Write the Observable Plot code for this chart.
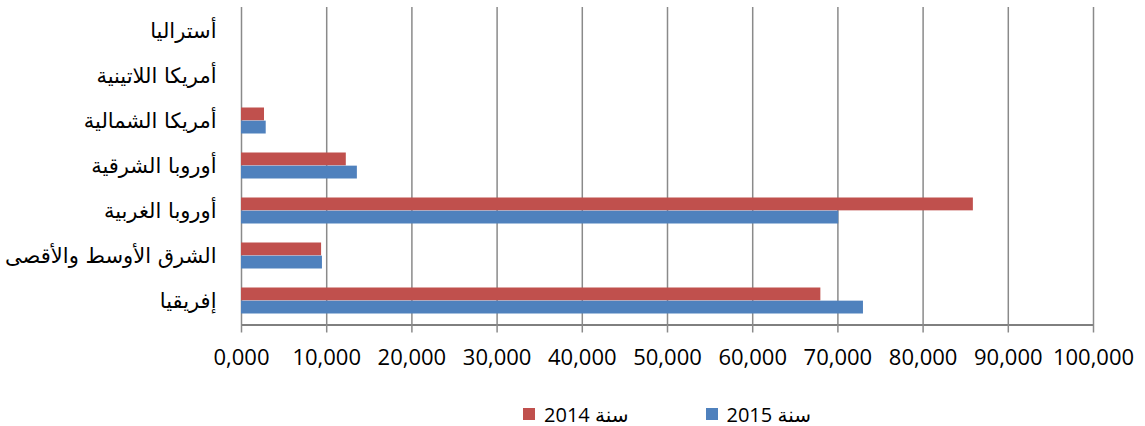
<!DOCTYPE html>
<html>
<head>
<meta charset="utf-8">
<script src="https://cdn.jsdelivr.net/npm/d3@7"></script>
<script src="https://cdn.jsdelivr.net/npm/@observablehq/plot@0.6"></script>
<style>
  body { margin: 0; background: #fff; }
  #wrap { position: relative; width: 1145px; height: 426px; }
  #legend { position: absolute; left: 241px; width: 852px; top: 402px; height: 24px;
    display: flex; justify-content: center; align-items: center; direction: ltr;
    font-family: "Open Sans", "DejaVu Sans", sans-serif; font-size: 20px; color: #000; }
  .sw { width: 12px; height: 12px; display: inline-block; margin-right: 9px; }
  .item { display: flex; align-items: center; }
  .lbl { direction: rtl; unicode-bidi: embed; }
</style>
</head>
<body>
<div id="wrap"></div>
<script>
const regions = ["أستراليا", "أمريكا اللاتينية", "أمريكا الشمالية", "أوروبا الشرقية", "أوروبا الغربية", "الشرق الأوسط والأقصى", "إفريقيا"];
const values2014 = [0, 0, 2700, 12300, 85900, 9400, 68000];
const values2015 = [0, 0, 2900, 13600, 70100, 9500, 73000];
const seriesNames = ["سنة 2014", "سنة 2015"];
const seriesColors = ["#C0504D", "#4F81BD"];
const xTicks = [0, 10000, 20000, 30000, 40000, 50000, 60000, 70000, 80000, 90000, 100000];
const xTickLabels = ["0,000", "10,000", "20,000", "30,000", "40,000", "50,000", "60,000", "70,000", "80,000", "90,000", "100,000"];

const d2014 = regions.map((r, i) => ({region: r, value: values2014[i]}));
const d2015 = regions.map((r, i) => ({region: r, value: values2015[i]}));

const grid = "#8a8a8a";
const chart = Plot.plot({
  width: 1145,
  height: 380,
  marginLeft: 241,
  marginRight: 52,
  marginTop: 7,
  marginBottom: 55.5,
  style: {fontFamily: "'Open Sans', 'DejaVu Sans', sans-serif", background: "#fff", color: "#000"},
  x: {domain: [0, 100000], ticks: xTicks, tickFormat: (d, i) => xTickLabels[xTicks.indexOf(d)], tickSize: 8, tickPadding: 16, label: null, line: true},
  y: {domain: regions, padding: 0, tickSize: 0, tickPadding: 25, label: null},
  marks: [
    Plot.ruleX(xTicks, {stroke: grid, strokeWidth: 1.5}),
    Plot.barX(d2014, {x: "value", y: "region", fill: seriesColors[0], insetTop: 9.5, insetBottom: 22.65}),
    Plot.barX(d2015, {x: "value", y: "region", fill: seriesColors[1], insetTop: 22.65, insetBottom: 9.5})
  ]
});
d3.select(chart).selectAll("[aria-label='x-axis'] text, [aria-label='x-axis tick label'] text").style("font-size", "22px");
d3.select(chart).selectAll("[aria-label='y-axis'] text, [aria-label='y-axis tick label'] text").style("font-size", "21px").style("font-family", "'DejaVu Sans', sans-serif");
d3.select(chart).selectAll("[aria-label='x-axis'] line, [aria-label='x-axis tick'] path, [aria-label='x-axis'] path").attr("stroke", grid).attr("stroke-width", 1.5).attr("stroke-opacity", 1);
document.getElementById("wrap").appendChild(chart);

const legend = document.createElement("div");
legend.id = "legend";
seriesNames.forEach((name, i) => {
  const item = document.createElement("div");
  item.className = "item";
  if (i > 0) item.style.marginLeft = "77px";
  const sw = document.createElement("span");
  sw.className = "sw";
  sw.style.background = seriesColors[i];
  const lbl = document.createElement("span");
  lbl.className = "lbl";
  lbl.textContent = name;
  item.appendChild(sw);
  item.appendChild(lbl);
  legend.appendChild(item);
});
document.getElementById("wrap").appendChild(legend);
</script>
</body>
</html>
